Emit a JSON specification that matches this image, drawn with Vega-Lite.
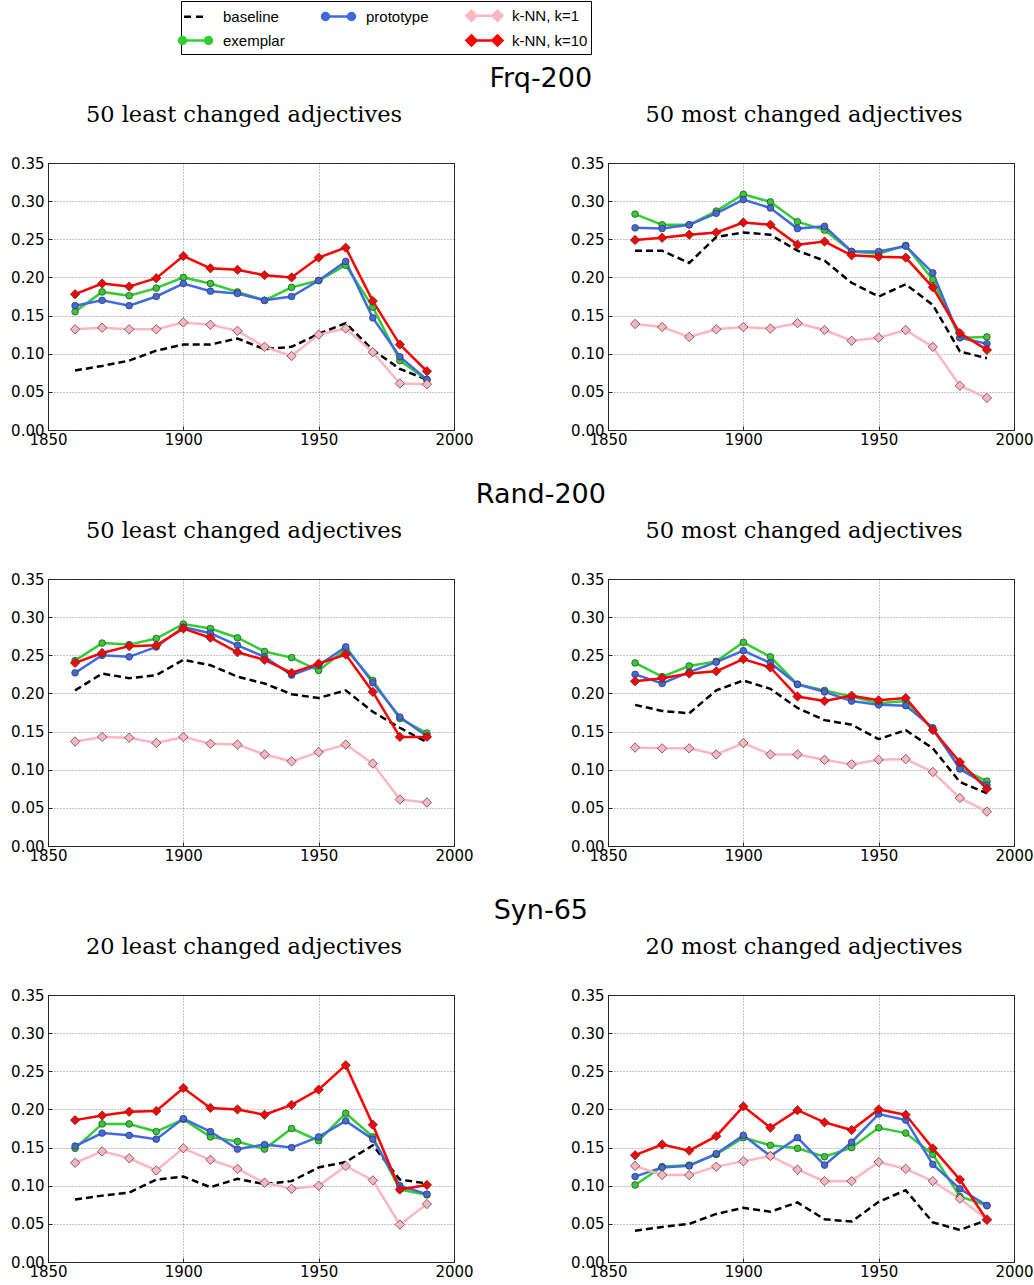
{
"$schema":"https://vega.github.io/schema/vega-lite/v6.json",
"background":"white",
"padding":{"top":0,"left":10,"right":4,"bottom":4},
"config":{
 "view":{"stroke":"#333","strokeWidth":1},
 "axis":{"labelFont":"DejaVu Sans","labelFontSize":15,"labelColor":"black","domain":false,"ticks":true,"tickSize":-4,"tickColor":"#222","grid":true,"gridColor":"#000","gridOpacity":0.6,"gridDash":[1,2],"gridWidth":0.8,"title":null,"labelFlush":false,"labelOverlap":false,"labelBound":false},
 "axisX":{"labelPadding":6},
 "axisY":{"labelPadding":8}
},
"data":{"values":[
{"p":"FL","m":"baseline","x":1860,"y":0.078},{"p":"FL","m":"baseline","x":1870,"y":0.084},{"p":"FL","m":"baseline","x":1880,"y":0.091},{"p":"FL","m":"baseline","x":1890,"y":0.104},{"p":"FL","m":"baseline","x":1900,"y":0.112},{"p":"FL","m":"baseline","x":1910,"y":0.112},{"p":"FL","m":"baseline","x":1920,"y":0.120},{"p":"FL","m":"baseline","x":1930,"y":0.106},{"p":"FL","m":"baseline","x":1940,"y":0.109},{"p":"FL","m":"baseline","x":1950,"y":0.126},{"p":"FL","m":"baseline","x":1960,"y":0.140},{"p":"FL","m":"baseline","x":1970,"y":0.105},{"p":"FL","m":"baseline","x":1980,"y":0.080},{"p":"FL","m":"baseline","x":1990,"y":0.066},
{"p":"FL","m":"exemplar","x":1860,"y":0.155},{"p":"FL","m":"exemplar","x":1870,"y":0.181},{"p":"FL","m":"exemplar","x":1880,"y":0.176},{"p":"FL","m":"exemplar","x":1890,"y":0.186},{"p":"FL","m":"exemplar","x":1900,"y":0.200},{"p":"FL","m":"exemplar","x":1910,"y":0.192},{"p":"FL","m":"exemplar","x":1920,"y":0.181},{"p":"FL","m":"exemplar","x":1930,"y":0.170},{"p":"FL","m":"exemplar","x":1940,"y":0.187},{"p":"FL","m":"exemplar","x":1950,"y":0.196},{"p":"FL","m":"exemplar","x":1960,"y":0.216},{"p":"FL","m":"exemplar","x":1970,"y":0.161},{"p":"FL","m":"exemplar","x":1980,"y":0.091},{"p":"FL","m":"exemplar","x":1990,"y":0.066},
{"p":"FL","m":"prototype","x":1860,"y":0.163},{"p":"FL","m":"prototype","x":1870,"y":0.170},{"p":"FL","m":"prototype","x":1880,"y":0.163},{"p":"FL","m":"prototype","x":1890,"y":0.175},{"p":"FL","m":"prototype","x":1900,"y":0.192},{"p":"FL","m":"prototype","x":1910,"y":0.182},{"p":"FL","m":"prototype","x":1920,"y":0.179},{"p":"FL","m":"prototype","x":1930,"y":0.170},{"p":"FL","m":"prototype","x":1940,"y":0.175},{"p":"FL","m":"prototype","x":1950,"y":0.196},{"p":"FL","m":"prototype","x":1960,"y":0.221},{"p":"FL","m":"prototype","x":1970,"y":0.147},{"p":"FL","m":"prototype","x":1980,"y":0.096},{"p":"FL","m":"prototype","x":1990,"y":0.066},
{"p":"FL","m":"k-NN, k=1","x":1860,"y":0.132},{"p":"FL","m":"k-NN, k=1","x":1870,"y":0.134},{"p":"FL","m":"k-NN, k=1","x":1880,"y":0.132},{"p":"FL","m":"k-NN, k=1","x":1890,"y":0.132},{"p":"FL","m":"k-NN, k=1","x":1900,"y":0.141},{"p":"FL","m":"k-NN, k=1","x":1910,"y":0.138},{"p":"FL","m":"k-NN, k=1","x":1920,"y":0.130},{"p":"FL","m":"k-NN, k=1","x":1930,"y":0.109},{"p":"FL","m":"k-NN, k=1","x":1940,"y":0.097},{"p":"FL","m":"k-NN, k=1","x":1950,"y":0.125},{"p":"FL","m":"k-NN, k=1","x":1960,"y":0.133},{"p":"FL","m":"k-NN, k=1","x":1970,"y":0.102},{"p":"FL","m":"k-NN, k=1","x":1980,"y":0.061},{"p":"FL","m":"k-NN, k=1","x":1990,"y":0.060},
{"p":"FL","m":"k-NN, k=10","x":1860,"y":0.178},{"p":"FL","m":"k-NN, k=10","x":1870,"y":0.192},{"p":"FL","m":"k-NN, k=10","x":1880,"y":0.188},{"p":"FL","m":"k-NN, k=10","x":1890,"y":0.199},{"p":"FL","m":"k-NN, k=10","x":1900,"y":0.228},{"p":"FL","m":"k-NN, k=10","x":1910,"y":0.212},{"p":"FL","m":"k-NN, k=10","x":1920,"y":0.210},{"p":"FL","m":"k-NN, k=10","x":1930,"y":0.203},{"p":"FL","m":"k-NN, k=10","x":1940,"y":0.200},{"p":"FL","m":"k-NN, k=10","x":1950,"y":0.226},{"p":"FL","m":"k-NN, k=10","x":1960,"y":0.239},{"p":"FL","m":"k-NN, k=10","x":1970,"y":0.169},{"p":"FL","m":"k-NN, k=10","x":1980,"y":0.112},{"p":"FL","m":"k-NN, k=10","x":1990,"y":0.077},
{"p":"FM","m":"baseline","x":1860,"y":0.235},{"p":"FM","m":"baseline","x":1870,"y":0.235},{"p":"FM","m":"baseline","x":1880,"y":0.219},{"p":"FM","m":"baseline","x":1890,"y":0.253},{"p":"FM","m":"baseline","x":1900,"y":0.259},{"p":"FM","m":"baseline","x":1910,"y":0.256},{"p":"FM","m":"baseline","x":1920,"y":0.235},{"p":"FM","m":"baseline","x":1930,"y":0.222},{"p":"FM","m":"baseline","x":1940,"y":0.193},{"p":"FM","m":"baseline","x":1950,"y":0.175},{"p":"FM","m":"baseline","x":1960,"y":0.191},{"p":"FM","m":"baseline","x":1970,"y":0.164},{"p":"FM","m":"baseline","x":1980,"y":0.103},{"p":"FM","m":"baseline","x":1990,"y":0.094},
{"p":"FM","m":"exemplar","x":1860,"y":0.283},{"p":"FM","m":"exemplar","x":1870,"y":0.269},{"p":"FM","m":"exemplar","x":1880,"y":0.269},{"p":"FM","m":"exemplar","x":1890,"y":0.287},{"p":"FM","m":"exemplar","x":1900,"y":0.309},{"p":"FM","m":"exemplar","x":1910,"y":0.299},{"p":"FM","m":"exemplar","x":1920,"y":0.273},{"p":"FM","m":"exemplar","x":1930,"y":0.262},{"p":"FM","m":"exemplar","x":1940,"y":0.234},{"p":"FM","m":"exemplar","x":1950,"y":0.231},{"p":"FM","m":"exemplar","x":1960,"y":0.242},{"p":"FM","m":"exemplar","x":1970,"y":0.197},{"p":"FM","m":"exemplar","x":1980,"y":0.121},{"p":"FM","m":"exemplar","x":1990,"y":0.122},
{"p":"FM","m":"prototype","x":1860,"y":0.265},{"p":"FM","m":"prototype","x":1870,"y":0.264},{"p":"FM","m":"prototype","x":1880,"y":0.269},{"p":"FM","m":"prototype","x":1890,"y":0.284},{"p":"FM","m":"prototype","x":1900,"y":0.302},{"p":"FM","m":"prototype","x":1910,"y":0.291},{"p":"FM","m":"prototype","x":1920,"y":0.264},{"p":"FM","m":"prototype","x":1930,"y":0.267},{"p":"FM","m":"prototype","x":1940,"y":0.234},{"p":"FM","m":"prototype","x":1950,"y":0.234},{"p":"FM","m":"prototype","x":1960,"y":0.241},{"p":"FM","m":"prototype","x":1970,"y":0.206},{"p":"FM","m":"prototype","x":1980,"y":0.121},{"p":"FM","m":"prototype","x":1990,"y":0.113},
{"p":"FM","m":"k-NN, k=1","x":1860,"y":0.139},{"p":"FM","m":"k-NN, k=1","x":1870,"y":0.135},{"p":"FM","m":"k-NN, k=1","x":1880,"y":0.122},{"p":"FM","m":"k-NN, k=1","x":1890,"y":0.132},{"p":"FM","m":"k-NN, k=1","x":1900,"y":0.135},{"p":"FM","m":"k-NN, k=1","x":1910,"y":0.133},{"p":"FM","m":"k-NN, k=1","x":1920,"y":0.140},{"p":"FM","m":"k-NN, k=1","x":1930,"y":0.131},{"p":"FM","m":"k-NN, k=1","x":1940,"y":0.117},{"p":"FM","m":"k-NN, k=1","x":1950,"y":0.121},{"p":"FM","m":"k-NN, k=1","x":1960,"y":0.131},{"p":"FM","m":"k-NN, k=1","x":1970,"y":0.109},{"p":"FM","m":"k-NN, k=1","x":1980,"y":0.058},{"p":"FM","m":"k-NN, k=1","x":1990,"y":0.042},
{"p":"FM","m":"k-NN, k=10","x":1860,"y":0.249},{"p":"FM","m":"k-NN, k=10","x":1870,"y":0.252},{"p":"FM","m":"k-NN, k=10","x":1880,"y":0.256},{"p":"FM","m":"k-NN, k=10","x":1890,"y":0.259},{"p":"FM","m":"k-NN, k=10","x":1900,"y":0.272},{"p":"FM","m":"k-NN, k=10","x":1910,"y":0.269},{"p":"FM","m":"k-NN, k=10","x":1920,"y":0.243},{"p":"FM","m":"k-NN, k=10","x":1930,"y":0.247},{"p":"FM","m":"k-NN, k=10","x":1940,"y":0.229},{"p":"FM","m":"k-NN, k=10","x":1950,"y":0.227},{"p":"FM","m":"k-NN, k=10","x":1960,"y":0.226},{"p":"FM","m":"k-NN, k=10","x":1970,"y":0.187},{"p":"FM","m":"k-NN, k=10","x":1980,"y":0.127},{"p":"FM","m":"k-NN, k=10","x":1990,"y":0.105},
{"p":"RL","m":"baseline","x":1860,"y":0.204},{"p":"RL","m":"baseline","x":1870,"y":0.226},{"p":"RL","m":"baseline","x":1880,"y":0.220},{"p":"RL","m":"baseline","x":1890,"y":0.224},{"p":"RL","m":"baseline","x":1900,"y":0.244},{"p":"RL","m":"baseline","x":1910,"y":0.237},{"p":"RL","m":"baseline","x":1920,"y":0.222},{"p":"RL","m":"baseline","x":1930,"y":0.213},{"p":"RL","m":"baseline","x":1940,"y":0.199},{"p":"RL","m":"baseline","x":1950,"y":0.194},{"p":"RL","m":"baseline","x":1960,"y":0.204},{"p":"RL","m":"baseline","x":1970,"y":0.176},{"p":"RL","m":"baseline","x":1980,"y":0.155},{"p":"RL","m":"baseline","x":1990,"y":0.136},
{"p":"RL","m":"exemplar","x":1860,"y":0.243},{"p":"RL","m":"exemplar","x":1870,"y":0.266},{"p":"RL","m":"exemplar","x":1880,"y":0.264},{"p":"RL","m":"exemplar","x":1890,"y":0.272},{"p":"RL","m":"exemplar","x":1900,"y":0.291},{"p":"RL","m":"exemplar","x":1910,"y":0.285},{"p":"RL","m":"exemplar","x":1920,"y":0.273},{"p":"RL","m":"exemplar","x":1930,"y":0.255},{"p":"RL","m":"exemplar","x":1940,"y":0.247},{"p":"RL","m":"exemplar","x":1950,"y":0.230},{"p":"RL","m":"exemplar","x":1960,"y":0.258},{"p":"RL","m":"exemplar","x":1970,"y":0.217},{"p":"RL","m":"exemplar","x":1980,"y":0.167},{"p":"RL","m":"exemplar","x":1990,"y":0.148},
{"p":"RL","m":"prototype","x":1860,"y":0.227},{"p":"RL","m":"prototype","x":1870,"y":0.250},{"p":"RL","m":"prototype","x":1880,"y":0.248},{"p":"RL","m":"prototype","x":1890,"y":0.261},{"p":"RL","m":"prototype","x":1900,"y":0.287},{"p":"RL","m":"prototype","x":1910,"y":0.279},{"p":"RL","m":"prototype","x":1920,"y":0.263},{"p":"RL","m":"prototype","x":1930,"y":0.248},{"p":"RL","m":"prototype","x":1940,"y":0.224},{"p":"RL","m":"prototype","x":1950,"y":0.237},{"p":"RL","m":"prototype","x":1960,"y":0.261},{"p":"RL","m":"prototype","x":1970,"y":0.214},{"p":"RL","m":"prototype","x":1980,"y":0.169},{"p":"RL","m":"prototype","x":1990,"y":0.144},
{"p":"RL","m":"k-NN, k=1","x":1860,"y":0.137},{"p":"RL","m":"k-NN, k=1","x":1870,"y":0.143},{"p":"RL","m":"k-NN, k=1","x":1880,"y":0.142},{"p":"RL","m":"k-NN, k=1","x":1890,"y":0.135},{"p":"RL","m":"k-NN, k=1","x":1900,"y":0.143},{"p":"RL","m":"k-NN, k=1","x":1910,"y":0.134},{"p":"RL","m":"k-NN, k=1","x":1920,"y":0.133},{"p":"RL","m":"k-NN, k=1","x":1930,"y":0.120},{"p":"RL","m":"k-NN, k=1","x":1940,"y":0.111},{"p":"RL","m":"k-NN, k=1","x":1950,"y":0.123},{"p":"RL","m":"k-NN, k=1","x":1960,"y":0.133},{"p":"RL","m":"k-NN, k=1","x":1970,"y":0.108},{"p":"RL","m":"k-NN, k=1","x":1980,"y":0.061},{"p":"RL","m":"k-NN, k=1","x":1990,"y":0.057},
{"p":"RL","m":"k-NN, k=10","x":1860,"y":0.240},{"p":"RL","m":"k-NN, k=10","x":1870,"y":0.253},{"p":"RL","m":"k-NN, k=10","x":1880,"y":0.262},{"p":"RL","m":"k-NN, k=10","x":1890,"y":0.263},{"p":"RL","m":"k-NN, k=10","x":1900,"y":0.285},{"p":"RL","m":"k-NN, k=10","x":1910,"y":0.273},{"p":"RL","m":"k-NN, k=10","x":1920,"y":0.254},{"p":"RL","m":"k-NN, k=10","x":1930,"y":0.244},{"p":"RL","m":"k-NN, k=10","x":1940,"y":0.227},{"p":"RL","m":"k-NN, k=10","x":1950,"y":0.239},{"p":"RL","m":"k-NN, k=10","x":1960,"y":0.251},{"p":"RL","m":"k-NN, k=10","x":1970,"y":0.202},{"p":"RL","m":"k-NN, k=10","x":1980,"y":0.143},{"p":"RL","m":"k-NN, k=10","x":1990,"y":0.143},
{"p":"RM","m":"baseline","x":1860,"y":0.185},{"p":"RM","m":"baseline","x":1870,"y":0.177},{"p":"RM","m":"baseline","x":1880,"y":0.174},{"p":"RM","m":"baseline","x":1890,"y":0.204},{"p":"RM","m":"baseline","x":1900,"y":0.217},{"p":"RM","m":"baseline","x":1910,"y":0.206},{"p":"RM","m":"baseline","x":1920,"y":0.181},{"p":"RM","m":"baseline","x":1930,"y":0.165},{"p":"RM","m":"baseline","x":1940,"y":0.159},{"p":"RM","m":"baseline","x":1950,"y":0.140},{"p":"RM","m":"baseline","x":1960,"y":0.152},{"p":"RM","m":"baseline","x":1970,"y":0.128},{"p":"RM","m":"baseline","x":1980,"y":0.084},{"p":"RM","m":"baseline","x":1990,"y":0.069},
{"p":"RM","m":"exemplar","x":1860,"y":0.240},{"p":"RM","m":"exemplar","x":1870,"y":0.222},{"p":"RM","m":"exemplar","x":1880,"y":0.236},{"p":"RM","m":"exemplar","x":1890,"y":0.242},{"p":"RM","m":"exemplar","x":1900,"y":0.267},{"p":"RM","m":"exemplar","x":1910,"y":0.248},{"p":"RM","m":"exemplar","x":1920,"y":0.212},{"p":"RM","m":"exemplar","x":1930,"y":0.204},{"p":"RM","m":"exemplar","x":1940,"y":0.196},{"p":"RM","m":"exemplar","x":1950,"y":0.187},{"p":"RM","m":"exemplar","x":1960,"y":0.190},{"p":"RM","m":"exemplar","x":1970,"y":0.153},{"p":"RM","m":"exemplar","x":1980,"y":0.102},{"p":"RM","m":"exemplar","x":1990,"y":0.085},
{"p":"RM","m":"prototype","x":1860,"y":0.225},{"p":"RM","m":"prototype","x":1870,"y":0.213},{"p":"RM","m":"prototype","x":1880,"y":0.228},{"p":"RM","m":"prototype","x":1890,"y":0.241},{"p":"RM","m":"prototype","x":1900,"y":0.256},{"p":"RM","m":"prototype","x":1910,"y":0.240},{"p":"RM","m":"prototype","x":1920,"y":0.212},{"p":"RM","m":"prototype","x":1930,"y":0.202},{"p":"RM","m":"prototype","x":1940,"y":0.190},{"p":"RM","m":"prototype","x":1950,"y":0.185},{"p":"RM","m":"prototype","x":1960,"y":0.184},{"p":"RM","m":"prototype","x":1970,"y":0.155},{"p":"RM","m":"prototype","x":1980,"y":0.101},{"p":"RM","m":"prototype","x":1990,"y":0.080},
{"p":"RM","m":"k-NN, k=1","x":1860,"y":0.129},{"p":"RM","m":"k-NN, k=1","x":1870,"y":0.128},{"p":"RM","m":"k-NN, k=1","x":1880,"y":0.128},{"p":"RM","m":"k-NN, k=1","x":1890,"y":0.120},{"p":"RM","m":"k-NN, k=1","x":1900,"y":0.135},{"p":"RM","m":"k-NN, k=1","x":1910,"y":0.120},{"p":"RM","m":"k-NN, k=1","x":1920,"y":0.120},{"p":"RM","m":"k-NN, k=1","x":1930,"y":0.113},{"p":"RM","m":"k-NN, k=1","x":1940,"y":0.107},{"p":"RM","m":"k-NN, k=1","x":1950,"y":0.113},{"p":"RM","m":"k-NN, k=1","x":1960,"y":0.114},{"p":"RM","m":"k-NN, k=1","x":1970,"y":0.097},{"p":"RM","m":"k-NN, k=1","x":1980,"y":0.063},{"p":"RM","m":"k-NN, k=1","x":1990,"y":0.045},
{"p":"RM","m":"k-NN, k=10","x":1860,"y":0.216},{"p":"RM","m":"k-NN, k=10","x":1870,"y":0.220},{"p":"RM","m":"k-NN, k=10","x":1880,"y":0.226},{"p":"RM","m":"k-NN, k=10","x":1890,"y":0.229},{"p":"RM","m":"k-NN, k=10","x":1900,"y":0.245},{"p":"RM","m":"k-NN, k=10","x":1910,"y":0.234},{"p":"RM","m":"k-NN, k=10","x":1920,"y":0.196},{"p":"RM","m":"k-NN, k=10","x":1930,"y":0.190},{"p":"RM","m":"k-NN, k=10","x":1940,"y":0.197},{"p":"RM","m":"k-NN, k=10","x":1950,"y":0.191},{"p":"RM","m":"k-NN, k=10","x":1960,"y":0.194},{"p":"RM","m":"k-NN, k=10","x":1970,"y":0.152},{"p":"RM","m":"k-NN, k=10","x":1980,"y":0.110},{"p":"RM","m":"k-NN, k=10","x":1990,"y":0.075},
{"p":"SL","m":"baseline","x":1860,"y":0.082},{"p":"SL","m":"baseline","x":1870,"y":0.087},{"p":"SL","m":"baseline","x":1880,"y":0.091},{"p":"SL","m":"baseline","x":1890,"y":0.108},{"p":"SL","m":"baseline","x":1900,"y":0.112},{"p":"SL","m":"baseline","x":1910,"y":0.098},{"p":"SL","m":"baseline","x":1920,"y":0.109},{"p":"SL","m":"baseline","x":1930,"y":0.102},{"p":"SL","m":"baseline","x":1940,"y":0.106},{"p":"SL","m":"baseline","x":1950,"y":0.124},{"p":"SL","m":"baseline","x":1960,"y":0.131},{"p":"SL","m":"baseline","x":1970,"y":0.153},{"p":"SL","m":"baseline","x":1980,"y":0.108},{"p":"SL","m":"baseline","x":1990,"y":0.103},
{"p":"SL","m":"exemplar","x":1860,"y":0.149},{"p":"SL","m":"exemplar","x":1870,"y":0.181},{"p":"SL","m":"exemplar","x":1880,"y":0.181},{"p":"SL","m":"exemplar","x":1890,"y":0.171},{"p":"SL","m":"exemplar","x":1900,"y":0.187},{"p":"SL","m":"exemplar","x":1910,"y":0.164},{"p":"SL","m":"exemplar","x":1920,"y":0.158},{"p":"SL","m":"exemplar","x":1930,"y":0.148},{"p":"SL","m":"exemplar","x":1940,"y":0.175},{"p":"SL","m":"exemplar","x":1950,"y":0.159},{"p":"SL","m":"exemplar","x":1960,"y":0.195},{"p":"SL","m":"exemplar","x":1970,"y":0.164},{"p":"SL","m":"exemplar","x":1980,"y":0.095},{"p":"SL","m":"exemplar","x":1990,"y":0.088},
{"p":"SL","m":"prototype","x":1860,"y":0.152},{"p":"SL","m":"prototype","x":1870,"y":0.169},{"p":"SL","m":"prototype","x":1880,"y":0.166},{"p":"SL","m":"prototype","x":1890,"y":0.161},{"p":"SL","m":"prototype","x":1900,"y":0.188},{"p":"SL","m":"prototype","x":1910,"y":0.171},{"p":"SL","m":"prototype","x":1920,"y":0.148},{"p":"SL","m":"prototype","x":1930,"y":0.154},{"p":"SL","m":"prototype","x":1940,"y":0.150},{"p":"SL","m":"prototype","x":1950,"y":0.164},{"p":"SL","m":"prototype","x":1960,"y":0.185},{"p":"SL","m":"prototype","x":1970,"y":0.161},{"p":"SL","m":"prototype","x":1980,"y":0.100},{"p":"SL","m":"prototype","x":1990,"y":0.089},
{"p":"SL","m":"k-NN, k=1","x":1860,"y":0.130},{"p":"SL","m":"k-NN, k=1","x":1870,"y":0.145},{"p":"SL","m":"k-NN, k=1","x":1880,"y":0.136},{"p":"SL","m":"k-NN, k=1","x":1890,"y":0.120},{"p":"SL","m":"k-NN, k=1","x":1900,"y":0.149},{"p":"SL","m":"k-NN, k=1","x":1910,"y":0.134},{"p":"SL","m":"k-NN, k=1","x":1920,"y":0.122},{"p":"SL","m":"k-NN, k=1","x":1930,"y":0.104},{"p":"SL","m":"k-NN, k=1","x":1940,"y":0.096},{"p":"SL","m":"k-NN, k=1","x":1950,"y":0.100},{"p":"SL","m":"k-NN, k=1","x":1960,"y":0.126},{"p":"SL","m":"k-NN, k=1","x":1970,"y":0.107},{"p":"SL","m":"k-NN, k=1","x":1980,"y":0.049},{"p":"SL","m":"k-NN, k=1","x":1990,"y":0.076},
{"p":"SL","m":"k-NN, k=10","x":1860,"y":0.186},{"p":"SL","m":"k-NN, k=10","x":1870,"y":0.192},{"p":"SL","m":"k-NN, k=10","x":1880,"y":0.197},{"p":"SL","m":"k-NN, k=10","x":1890,"y":0.198},{"p":"SL","m":"k-NN, k=10","x":1900,"y":0.228},{"p":"SL","m":"k-NN, k=10","x":1910,"y":0.202},{"p":"SL","m":"k-NN, k=10","x":1920,"y":0.200},{"p":"SL","m":"k-NN, k=10","x":1930,"y":0.193},{"p":"SL","m":"k-NN, k=10","x":1940,"y":0.206},{"p":"SL","m":"k-NN, k=10","x":1950,"y":0.226},{"p":"SL","m":"k-NN, k=10","x":1960,"y":0.258},{"p":"SL","m":"k-NN, k=10","x":1970,"y":0.180},{"p":"SL","m":"k-NN, k=10","x":1980,"y":0.095},{"p":"SL","m":"k-NN, k=10","x":1990,"y":0.101},
{"p":"SM","m":"baseline","x":1860,"y":0.041},{"p":"SM","m":"baseline","x":1870,"y":0.046},{"p":"SM","m":"baseline","x":1880,"y":0.050},{"p":"SM","m":"baseline","x":1890,"y":0.063},{"p":"SM","m":"baseline","x":1900,"y":0.071},{"p":"SM","m":"baseline","x":1910,"y":0.066},{"p":"SM","m":"baseline","x":1920,"y":0.078},{"p":"SM","m":"baseline","x":1930,"y":0.056},{"p":"SM","m":"baseline","x":1940,"y":0.053},{"p":"SM","m":"baseline","x":1950,"y":0.079},{"p":"SM","m":"baseline","x":1960,"y":0.094},{"p":"SM","m":"baseline","x":1970,"y":0.052},{"p":"SM","m":"baseline","x":1980,"y":0.042},{"p":"SM","m":"baseline","x":1990,"y":0.055},
{"p":"SM","m":"exemplar","x":1860,"y":0.101},{"p":"SM","m":"exemplar","x":1870,"y":0.125},{"p":"SM","m":"exemplar","x":1880,"y":0.127},{"p":"SM","m":"exemplar","x":1890,"y":0.141},{"p":"SM","m":"exemplar","x":1900,"y":0.163},{"p":"SM","m":"exemplar","x":1910,"y":0.153},{"p":"SM","m":"exemplar","x":1920,"y":0.149},{"p":"SM","m":"exemplar","x":1930,"y":0.138},{"p":"SM","m":"exemplar","x":1940,"y":0.150},{"p":"SM","m":"exemplar","x":1950,"y":0.176},{"p":"SM","m":"exemplar","x":1960,"y":0.169},{"p":"SM","m":"exemplar","x":1970,"y":0.141},{"p":"SM","m":"exemplar","x":1980,"y":0.086},{"p":"SM","m":"exemplar","x":1990,"y":0.074},
{"p":"SM","m":"prototype","x":1860,"y":0.112},{"p":"SM","m":"prototype","x":1870,"y":0.124},{"p":"SM","m":"prototype","x":1880,"y":0.126},{"p":"SM","m":"prototype","x":1890,"y":0.142},{"p":"SM","m":"prototype","x":1900,"y":0.166},{"p":"SM","m":"prototype","x":1910,"y":0.139},{"p":"SM","m":"prototype","x":1920,"y":0.163},{"p":"SM","m":"prototype","x":1930,"y":0.127},{"p":"SM","m":"prototype","x":1940,"y":0.157},{"p":"SM","m":"prototype","x":1950,"y":0.194},{"p":"SM","m":"prototype","x":1960,"y":0.186},{"p":"SM","m":"prototype","x":1970,"y":0.128},{"p":"SM","m":"prototype","x":1980,"y":0.096},{"p":"SM","m":"prototype","x":1990,"y":0.074},
{"p":"SM","m":"k-NN, k=1","x":1860,"y":0.126},{"p":"SM","m":"k-NN, k=1","x":1870,"y":0.114},{"p":"SM","m":"k-NN, k=1","x":1880,"y":0.114},{"p":"SM","m":"k-NN, k=1","x":1890,"y":0.125},{"p":"SM","m":"k-NN, k=1","x":1900,"y":0.132},{"p":"SM","m":"k-NN, k=1","x":1910,"y":0.139},{"p":"SM","m":"k-NN, k=1","x":1920,"y":0.121},{"p":"SM","m":"k-NN, k=1","x":1930,"y":0.106},{"p":"SM","m":"k-NN, k=1","x":1940,"y":0.106},{"p":"SM","m":"k-NN, k=1","x":1950,"y":0.131},{"p":"SM","m":"k-NN, k=1","x":1960,"y":0.122},{"p":"SM","m":"k-NN, k=1","x":1970,"y":0.106},{"p":"SM","m":"k-NN, k=1","x":1980,"y":0.083},{"p":"SM","m":"k-NN, k=1","x":1990,"y":0.056},
{"p":"SM","m":"k-NN, k=10","x":1860,"y":0.140},{"p":"SM","m":"k-NN, k=10","x":1870,"y":0.154},{"p":"SM","m":"k-NN, k=10","x":1880,"y":0.146},{"p":"SM","m":"k-NN, k=10","x":1890,"y":0.165},{"p":"SM","m":"k-NN, k=10","x":1900,"y":0.204},{"p":"SM","m":"k-NN, k=10","x":1910,"y":0.176},{"p":"SM","m":"k-NN, k=10","x":1920,"y":0.199},{"p":"SM","m":"k-NN, k=10","x":1930,"y":0.183},{"p":"SM","m":"k-NN, k=10","x":1940,"y":0.173},{"p":"SM","m":"k-NN, k=10","x":1950,"y":0.200},{"p":"SM","m":"k-NN, k=10","x":1960,"y":0.193},{"p":"SM","m":"k-NN, k=10","x":1970,"y":0.149},{"p":"SM","m":"k-NN, k=10","x":1980,"y":0.108},{"p":"SM","m":"k-NN, k=10","x":1990,"y":0.055}
]},
"spacing":33,
"vconcat":[
 {"title":{"text":"Frq-200","font":"DejaVu Sans","fontSize":27,"fontWeight":"normal","anchor":"middle","offset":10,"dx":19},
  "spacing":96,
  "hconcat":[
   {"title":{"text":"50 least changed adjectives","font":"DejaVu Serif","fontSize":22.5,"fontWeight":"normal","anchor":"middle","offset":30,"dx":-7},
    "width":406,"height":267,"transform":[{"filter":{"field":"p","equal":"FL"}}],
    "encoding":{"x":{"field":"x","type":"quantitative","scale":{"domain":[1850,2000],"nice":false,"zero":false},"axis":{"values":[1850,1900,1950,2000],"format":"d"}},
      "y":{"field":"y","type":"quantitative","scale":{"domain":[0,0.35],"nice":false,"zero":false},"axis":{"values":[0,0.05,0.1,0.15,0.2,0.25,0.3,0.35],"format":".2f"}},
      "color":{"field":"m","type":"nominal","scale":{"domain":["baseline","prototype","k-NN, k=1","exemplar"," ","k-NN, k=10"],"range":["#000000","#4169E1","#FFB6C1","#32CD32","rgba(0,0,0,0)","#FF0000"]},
        "legend":{"title":null,"orient":"none","legendX":133,"legendY":-162,"direction":"horizontal","columns":3,"strokeColor":"black","fillColor":"white","padding":3,"symbolSize":400,"labelFont":"Liberation Sans","labelFontSize":15,"labelColor":"black","labelOffset":16,"columnPadding":32,"rowPadding":3,"labelLimit":0,
          "encode":{"symbols":{"update":{"shape":{"signal":"datum.value === 'baseline' ? 'M-1.15,0L-0.45,0M0.05,0L0.75,0' : (datum.value === 'exemplar' || datum.value === 'prototype') ? 'M-1.3,0L1.3,0M-1.65,0A0.35,0.35,0,1,1,-0.95,0A0.35,0.35,0,1,1,-1.65,0M0.95,0A0.35,0.35,0,1,1,1.65,0A0.35,0.35,0,1,1,0.95,0' : datum.value === ' ' ? 'M0,0' : 'M-1.3,0L1.3,0M-1.8,0L-1.3,-0.5L-0.8,0L-1.3,0.5ZM0.8,0L1.3,-0.5L1.8,0L1.3,0.5Z'"},"fill":{"scale":"color","field":"value"},"stroke":{"scale":"color","field":"value"},"strokeWidth":{"value":2.5},"strokeDash":{"value":[]},"size":{"value":400},"opacity":{"value":1},"fillOpacity":{"value":1},"strokeOpacity":{"value":1}}}}}}},
    "layer":[
     {"transform":[{"filter":{"field":"m","equal":"baseline"}}],"mark":{"type":"line","strokeWidth":2.5,"strokeDash":[7,4]}},
     {"transform":[{"filter":{"field":"m","oneOf":["exemplar","prototype","k-NN, k=1","k-NN, k=10"]}}],"mark":{"type":"line","strokeWidth":2.5}},
     {"transform":[{"filter":{"field":"m","oneOf":["exemplar","prototype"]}}],"mark":{"type":"point","filled":true,"shape":"circle","size":45,"stroke":"#333","strokeWidth":0.7,"opacity":1}},
     {"transform":[{"filter":{"field":"m","oneOf":["k-NN, k=1","k-NN, k=10"]}}],"mark":{"type":"point","filled":true,"shape":"diamond","size":88,"stroke":"#333","strokeWidth":0.7,"opacity":1}}
    ]},
   {"title":{"text":"50 most changed adjectives","font":"DejaVu Serif","fontSize":22.5,"fontWeight":"normal","anchor":"middle","offset":30,"dx":-7},
    "width":406,"height":267,"transform":[{"filter":{"field":"p","equal":"FM"}}],
    "encoding":{"x":{"field":"x","type":"quantitative","scale":{"domain":[1850,2000],"nice":false,"zero":false},"axis":{"values":[1850,1900,1950,2000],"format":"d"}},
      "y":{"field":"y","type":"quantitative","scale":{"domain":[0,0.35],"nice":false,"zero":false},"axis":{"values":[0,0.05,0.1,0.15,0.2,0.25,0.3,0.35],"format":".2f"}},
      "color":{"field":"m","type":"nominal"}},
    "layer":[
     {"transform":[{"filter":{"field":"m","equal":"baseline"}}],"mark":{"type":"line","strokeWidth":2.5,"strokeDash":[7,4]}},
     {"transform":[{"filter":{"field":"m","oneOf":["exemplar","prototype","k-NN, k=1","k-NN, k=10"]}}],"mark":{"type":"line","strokeWidth":2.5}},
     {"transform":[{"filter":{"field":"m","oneOf":["exemplar","prototype"]}}],"mark":{"type":"point","filled":true,"shape":"circle","size":45,"stroke":"#333","strokeWidth":0.7,"opacity":1}},
     {"transform":[{"filter":{"field":"m","oneOf":["k-NN, k=1","k-NN, k=10"]}}],"mark":{"type":"point","filled":true,"shape":"diamond","size":88,"stroke":"#333","strokeWidth":0.7,"opacity":1}}
    ]}
  ]},
 {"title":{"text":"Rand-200","font":"DejaVu Sans","fontSize":27,"fontWeight":"normal","anchor":"middle","offset":10,"dx":19},
  "spacing":96,
  "hconcat":[
   {"title":{"text":"50 least changed adjectives","font":"DejaVu Serif","fontSize":22.5,"fontWeight":"normal","anchor":"middle","offset":30,"dx":-7},
    "width":406,"height":267,"transform":[{"filter":{"field":"p","equal":"RL"}}],
    "encoding":{"x":{"field":"x","type":"quantitative","scale":{"domain":[1850,2000],"nice":false,"zero":false},"axis":{"values":[1850,1900,1950,2000],"format":"d"}},
      "y":{"field":"y","type":"quantitative","scale":{"domain":[0,0.35],"nice":false,"zero":false},"axis":{"values":[0,0.05,0.1,0.15,0.2,0.25,0.3,0.35],"format":".2f"}},
      "color":{"field":"m","type":"nominal"}},
    "layer":[
     {"transform":[{"filter":{"field":"m","equal":"baseline"}}],"mark":{"type":"line","strokeWidth":2.5,"strokeDash":[7,4]}},
     {"transform":[{"filter":{"field":"m","oneOf":["exemplar","prototype","k-NN, k=1","k-NN, k=10"]}}],"mark":{"type":"line","strokeWidth":2.5}},
     {"transform":[{"filter":{"field":"m","oneOf":["exemplar","prototype"]}}],"mark":{"type":"point","filled":true,"shape":"circle","size":45,"stroke":"#333","strokeWidth":0.7,"opacity":1}},
     {"transform":[{"filter":{"field":"m","oneOf":["k-NN, k=1","k-NN, k=10"]}}],"mark":{"type":"point","filled":true,"shape":"diamond","size":88,"stroke":"#333","strokeWidth":0.7,"opacity":1}}
    ]},
   {"title":{"text":"50 most changed adjectives","font":"DejaVu Serif","fontSize":22.5,"fontWeight":"normal","anchor":"middle","offset":30,"dx":-7},
    "width":406,"height":267,"transform":[{"filter":{"field":"p","equal":"RM"}}],
    "encoding":{"x":{"field":"x","type":"quantitative","scale":{"domain":[1850,2000],"nice":false,"zero":false},"axis":{"values":[1850,1900,1950,2000],"format":"d"}},
      "y":{"field":"y","type":"quantitative","scale":{"domain":[0,0.35],"nice":false,"zero":false},"axis":{"values":[0,0.05,0.1,0.15,0.2,0.25,0.3,0.35],"format":".2f"}},
      "color":{"field":"m","type":"nominal"}},
    "layer":[
     {"transform":[{"filter":{"field":"m","equal":"baseline"}}],"mark":{"type":"line","strokeWidth":2.5,"strokeDash":[7,4]}},
     {"transform":[{"filter":{"field":"m","oneOf":["exemplar","prototype","k-NN, k=1","k-NN, k=10"]}}],"mark":{"type":"line","strokeWidth":2.5}},
     {"transform":[{"filter":{"field":"m","oneOf":["exemplar","prototype"]}}],"mark":{"type":"point","filled":true,"shape":"circle","size":45,"stroke":"#333","strokeWidth":0.7,"opacity":1}},
     {"transform":[{"filter":{"field":"m","oneOf":["k-NN, k=1","k-NN, k=10"]}}],"mark":{"type":"point","filled":true,"shape":"diamond","size":88,"stroke":"#333","strokeWidth":0.7,"opacity":1}}
    ]}
  ]},
 {"title":{"text":"Syn-65","font":"DejaVu Sans","fontSize":27,"fontWeight":"normal","anchor":"middle","offset":10,"dx":19},
  "spacing":96,
  "hconcat":[
   {"title":{"text":"20 least changed adjectives","font":"DejaVu Serif","fontSize":22.5,"fontWeight":"normal","anchor":"middle","offset":30,"dx":-7},
    "width":406,"height":267,"transform":[{"filter":{"field":"p","equal":"SL"}}],
    "encoding":{"x":{"field":"x","type":"quantitative","scale":{"domain":[1850,2000],"nice":false,"zero":false},"axis":{"values":[1850,1900,1950,2000],"format":"d"}},
      "y":{"field":"y","type":"quantitative","scale":{"domain":[0,0.35],"nice":false,"zero":false},"axis":{"values":[0,0.05,0.1,0.15,0.2,0.25,0.3,0.35],"format":".2f"}},
      "color":{"field":"m","type":"nominal"}},
    "layer":[
     {"transform":[{"filter":{"field":"m","equal":"baseline"}}],"mark":{"type":"line","strokeWidth":2.5,"strokeDash":[7,4]}},
     {"transform":[{"filter":{"field":"m","oneOf":["exemplar","prototype","k-NN, k=1","k-NN, k=10"]}}],"mark":{"type":"line","strokeWidth":2.5}},
     {"transform":[{"filter":{"field":"m","oneOf":["exemplar","prototype"]}}],"mark":{"type":"point","filled":true,"shape":"circle","size":45,"stroke":"#333","strokeWidth":0.7,"opacity":1}},
     {"transform":[{"filter":{"field":"m","oneOf":["k-NN, k=1","k-NN, k=10"]}}],"mark":{"type":"point","filled":true,"shape":"diamond","size":88,"stroke":"#333","strokeWidth":0.7,"opacity":1}}
    ]},
   {"title":{"text":"20 most changed adjectives","font":"DejaVu Serif","fontSize":22.5,"fontWeight":"normal","anchor":"middle","offset":30,"dx":-7},
    "width":406,"height":267,"transform":[{"filter":{"field":"p","equal":"SM"}}],
    "encoding":{"x":{"field":"x","type":"quantitative","scale":{"domain":[1850,2000],"nice":false,"zero":false},"axis":{"values":[1850,1900,1950,2000],"format":"d"}},
      "y":{"field":"y","type":"quantitative","scale":{"domain":[0,0.35],"nice":false,"zero":false},"axis":{"values":[0,0.05,0.1,0.15,0.2,0.25,0.3,0.35],"format":".2f"}},
      "color":{"field":"m","type":"nominal"}},
    "layer":[
     {"transform":[{"filter":{"field":"m","equal":"baseline"}}],"mark":{"type":"line","strokeWidth":2.5,"strokeDash":[7,4]}},
     {"transform":[{"filter":{"field":"m","oneOf":["exemplar","prototype","k-NN, k=1","k-NN, k=10"]}}],"mark":{"type":"line","strokeWidth":2.5}},
     {"transform":[{"filter":{"field":"m","oneOf":["exemplar","prototype"]}}],"mark":{"type":"point","filled":true,"shape":"circle","size":45,"stroke":"#333","strokeWidth":0.7,"opacity":1}},
     {"transform":[{"filter":{"field":"m","oneOf":["k-NN, k=1","k-NN, k=10"]}}],"mark":{"type":"point","filled":true,"shape":"diamond","size":88,"stroke":"#333","strokeWidth":0.7,"opacity":1}}
    ]}
  ]}
]
}
